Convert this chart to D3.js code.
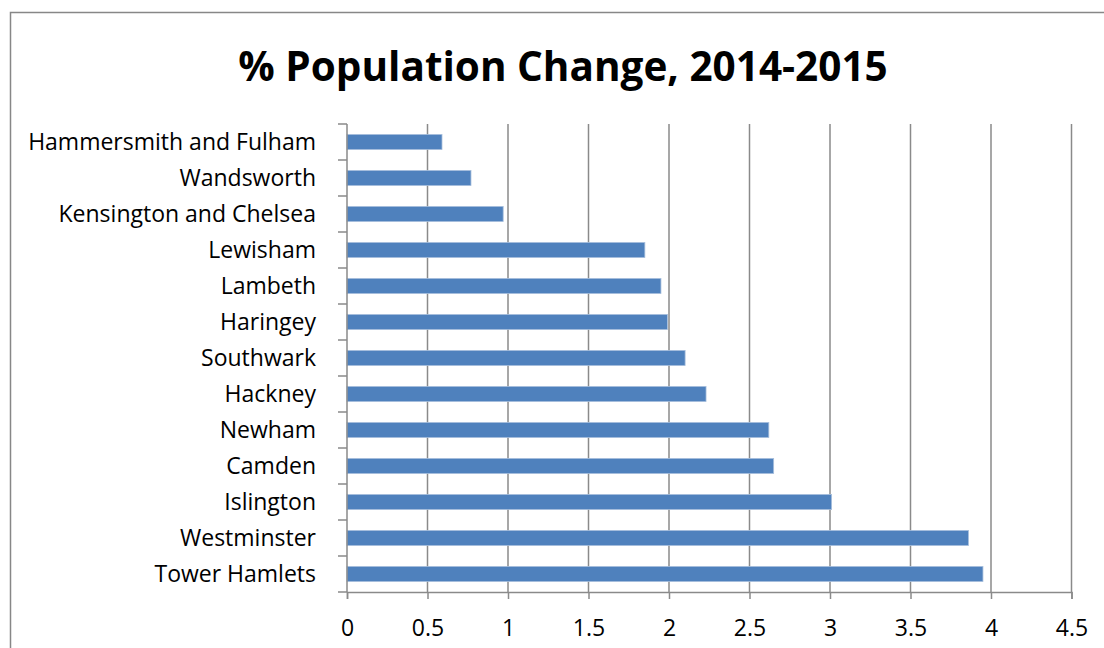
<!DOCTYPE html>
<html>
<head>
<meta charset="utf-8">
<script src="https://cdn.jsdelivr.net/npm/d3@7"></script>
<style>
  body { margin: 0; background: #fff; }
  svg { display: block; font-family: "Open Sans", sans-serif; }
</style>
</head>
<body>
<div id="chart"></div>
<script>
// boroughs, top to bottom
const boroughs = [
  "Hammersmith and Fulham", "Wandsworth", "Kensington and Chelsea", "Lewisham",
  "Lambeth", "Haringey", "Southwark", "Hackney", "Newham", "Camden",
  "Islington", "Westminster", "Tower Hamlets"
];
const change = [0.59, 0.77, 0.97, 1.85, 1.95, 1.99, 2.10, 2.23, 2.62, 2.65, 3.01, 3.86, 3.95];
const xTicks = [0, 0.5, 1, 1.5, 2, 2.5, 3, 3.5, 4, 4.5];

const W = 1104, H = 648;
const margin = {top: 124, right: 32.5, bottom: 56, left: 347};

const svg = d3.select("#chart").append("svg")
  .attr("width", W)
  .attr("height", H);

// outer chart border (runs off the right and bottom edges)
svg.append("rect")
  .attr("x", 10.5).attr("y", 12.5)
  .attr("width", W + 20).attr("height", H + 20)
  .attr("fill", "none")
  .attr("stroke", "#878787")
  .attr("stroke-width", 1.5);

svg.append("text")
  .attr("x", 563).attr("y", 81)
  .attr("text-anchor", "middle")
  .attr("font-size", 40.5)
  .attr("font-weight", "bold")
  .text("% Population Change, 2014-2015");

const x = d3.scaleLinear()
  .domain([0, 4.5])
  .range([margin.left, W - margin.right]);

const y = d3.scaleBand()
  .domain(boroughs)
  .range([margin.top, H - margin.bottom])
  .paddingInner(0.58)
  .paddingOuter(0.29);

// vertical gridlines
svg.append("g")
  .selectAll("line")
  .data(xTicks.slice(1))
  .join("line")
  .attr("x1", d => x(d)).attr("x2", d => x(d))
  .attr("y1", margin.top).attr("y2", H - margin.bottom)
  .attr("stroke", "#8a8a8a")
  .attr("stroke-width", 1.5);

// bars
svg.append("g")
  .selectAll("rect")
  .data(boroughs)
  .join("rect")
  .attr("x", x(0))
  .attr("y", d => y(d))
  .attr("width", (d, i) => x(change[i]) - x(0))
  .attr("height", y.bandwidth())
  .attr("fill", "#4f81bd")
  .attr("stroke", "#a7bfdc")
  .attr("stroke-width", 0.8);

// x axis
const xAxis = svg.append("g")
  .attr("transform", `translate(0,${H - margin.bottom})`)
  .call(d3.axisBottom(x).tickValues(xTicks).tickSize(7).tickPadding(21).tickFormat(d3.format("")));
xAxis.select(".domain").attr("stroke", "#8a8a8a").attr("stroke-width", 1.5);
xAxis.selectAll(".tick line").attr("stroke", "#8a8a8a").attr("stroke-width", 1.5);
xAxis.selectAll("text")
  .attr("font-size", 23)
  .attr("font-family", "Open Sans, sans-serif")
  .attr("fill", "#000");

// y axis: ticks between categories
const step = y.step();
const yTickPos = d3.range(boroughs.length + 1).map(i => margin.top + i * step);
svg.append("line")
  .attr("x1", x(0)).attr("x2", x(0))
  .attr("y1", margin.top).attr("y2", H - margin.bottom)
  .attr("stroke", "#8a8a8a").attr("stroke-width", 1.5);
svg.append("g")
  .selectAll("line")
  .data(yTickPos)
  .join("line")
  .attr("x1", x(0) - 9).attr("x2", x(0))
  .attr("y1", d => d).attr("y2", d => d)
  .attr("stroke", "#8a8a8a").attr("stroke-width", 1.5);

svg.append("g")
  .selectAll("text")
  .data(boroughs)
  .join("text")
  .attr("x", 316)
  .attr("y", d => y(d) + y.bandwidth() / 2)
  .attr("dy", "0.35em")
  .attr("text-anchor", "end")
  .attr("font-size", 23)
  .text(d => d);
</script>
</body>
</html>
